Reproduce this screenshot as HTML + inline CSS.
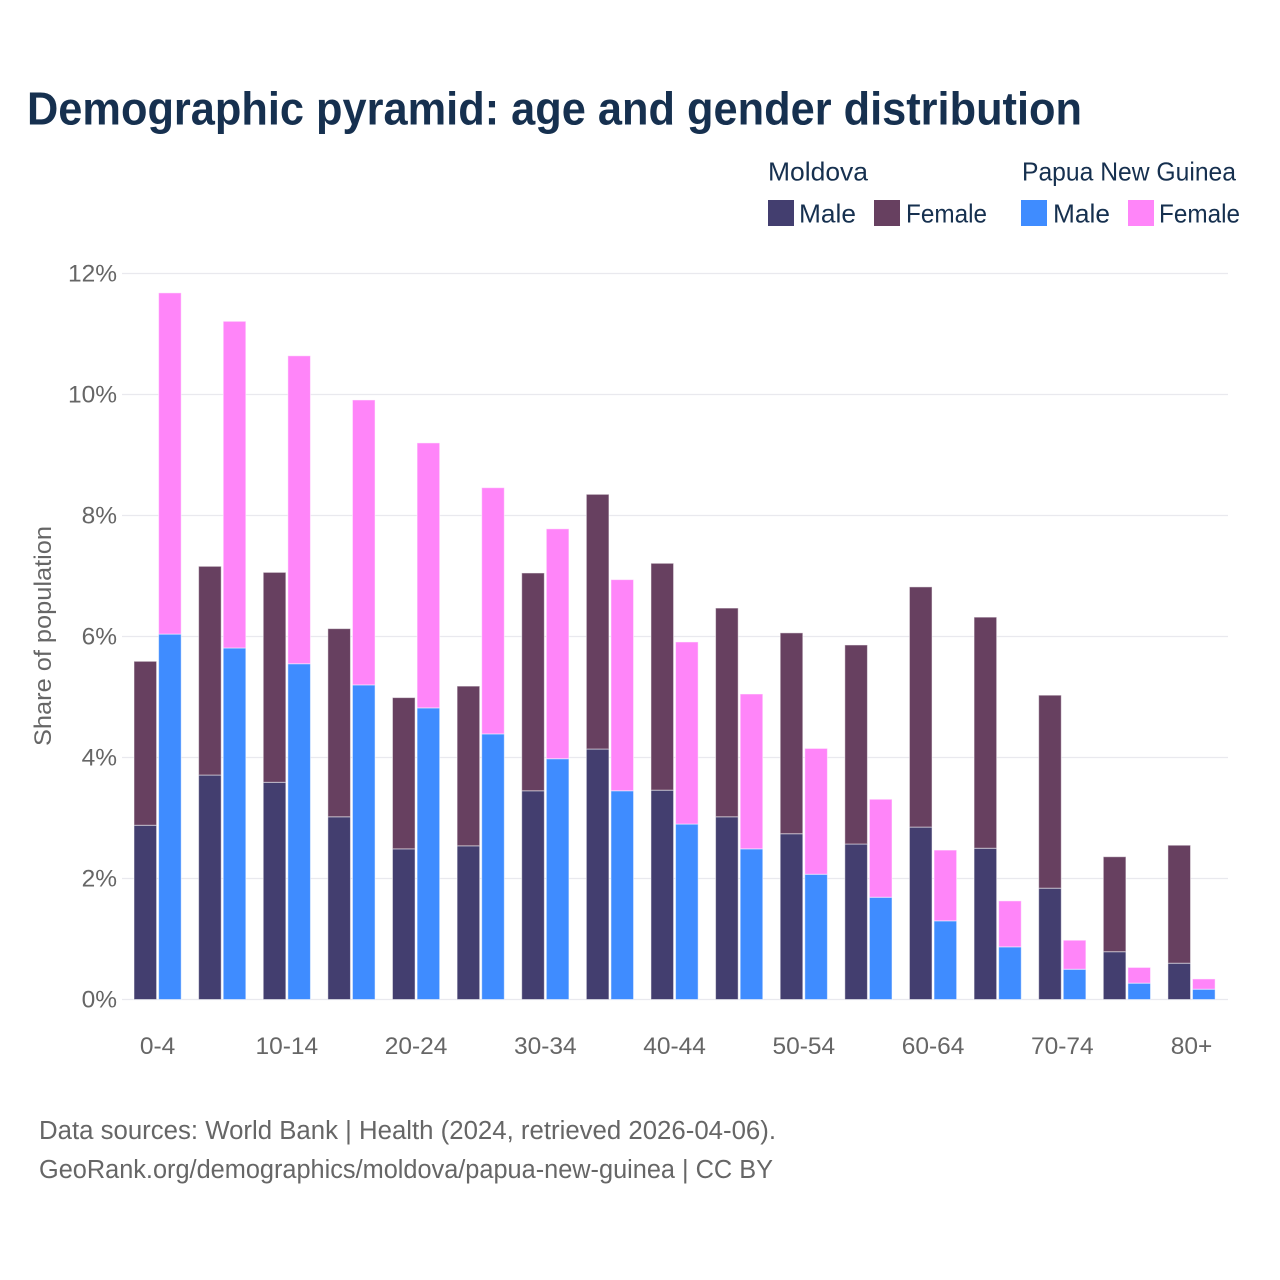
<!DOCTYPE html>
<html lang="en">
<head>
<meta charset="utf-8">
<title>Demographic pyramid</title>
<style>
html,body{margin:0;padding:0;background:#fff;width:1280px;height:1280px;overflow:hidden}
svg{display:block}
text{font-family:"Liberation Sans",sans-serif}
.leg{font-size:26px;fill:#16304f}
.tick{font-size:24.5px;fill:#666}
.foot{font-size:25.5px;fill:#666}
</style>
</head>
<body>
<svg id="chart" xmlns="http://www.w3.org/2000/svg" width="1280" height="1280" viewBox="0 0 1280 1280">
<rect width="1280" height="1280" fill="#fff"/>
<text x="27" y="124.5" font-size="46.5" font-weight="700" fill="#16304f" textLength="1055" lengthAdjust="spacingAndGlyphs">Demographic pyramid: age and gender distribution</text>

<g>
<text class="leg" x="768" y="180.5" textLength="100" lengthAdjust="spacingAndGlyphs">Moldova</text>
<text class="leg" x="1022" y="180.5" textLength="214" lengthAdjust="spacingAndGlyphs">Papua New Guinea</text>
<rect x="768" y="200" width="26" height="26" fill="#433e6f"/>
<text class="leg" x="799" y="222.5" textLength="57" lengthAdjust="spacingAndGlyphs">Male</text>
<rect x="874" y="200" width="26" height="26" fill="#674060"/>
<text class="leg" x="906" y="222.5" textLength="81" lengthAdjust="spacingAndGlyphs">Female</text>
<rect x="1021" y="200" width="26" height="26" fill="#3f8cff"/>
<text class="leg" x="1053" y="222.5" textLength="57" lengthAdjust="spacingAndGlyphs">Male</text>
<rect x="1128" y="200" width="26" height="26" fill="#ff85f9"/>
<text class="leg" x="1159" y="222.5" textLength="81" lengthAdjust="spacingAndGlyphs">Female</text>
</g>

<g id="grid"></g>
<g id="yticks"></g>
<g id="bars"></g>
<g id="xticks"></g>

<text class="tick" transform="translate(51,636) rotate(-90)" text-anchor="middle" textLength="220" lengthAdjust="spacingAndGlyphs">Share of population</text>

<text class="foot" x="39" y="1139" textLength="737" lengthAdjust="spacingAndGlyphs">Data sources: World Bank | Health (2024, retrieved 2026-04-06).</text>
<text class="foot" x="39" y="1178" textLength="734" lengthAdjust="spacingAndGlyphs">GeoRank.org/demographics/moldova/papua-new-guinea | CC BY</text>
</svg>
<script>
const categories = ['0-4','5-9','10-14','15-19','20-24','25-29','30-34','35-39','40-44','45-49','50-54','55-59','60-64','65-69','70-74','75-79','80+'];
const moldovaMale = [2.88,3.71,3.59,3.02,2.49,2.54,3.45,4.14,3.46,3.02,2.74,2.57,2.85,2.50,1.84,0.79,0.60];
const moldovaFemale = [2.71,3.45,3.47,3.11,2.50,2.64,3.60,4.21,3.75,3.45,3.32,3.29,3.97,3.82,3.19,1.57,1.95];
const pngMale = [6.04,5.81,5.55,5.20,4.82,4.39,3.98,3.45,2.90,2.49,2.07,1.69,1.30,0.87,0.50,0.27,0.17];
const pngFemale = [5.64,5.40,5.09,4.71,4.38,4.07,3.80,3.49,3.01,2.56,2.08,1.62,1.17,0.76,0.48,0.26,0.17];
const yTickValues = [0,2,4,6,8,10,12];
const yTickLabels = ['0%','2%','4%','6%','8%','10%','12%'];

const NS = 'http://www.w3.org/2000/svg';
const Y0 = 999.5, PX_PER_UNIT = 60.5;
const X0 = 134, GROUP_STEP = 64.62, BAR_W = 22.6, BAR_OFFSET = 24.6;
const yScale = v => Y0 - v * PX_PER_UNIT;
const groupX = i => X0 + i * GROUP_STEP;

function make(tag, parent, attrs) {
  const el = document.createElementNS(NS, tag);
  for (const k in attrs) el.setAttribute(k, attrs[k]);
  parent.appendChild(el);
  return el;
}

const grid = document.getElementById('grid');
const yticks = document.getElementById('yticks');
yTickValues.forEach((v, i) => {
  const line = make('line', grid, {x1:122, x2:1228, y1:yScale(v), y2:yScale(v), stroke:'#e9e9ee', 'stroke-width':1.2});
  
  
  const t = make('text', yticks, {x:117, y:yScale(v) + 8, 'text-anchor':'end', class:'tick'});
  t.textContent = yTickLabels[i];
  
  
});

const bars = document.getElementById('bars');
function stackedBar(x, lower, upper, lowerColor, upperColor, name) {
  const yLower = yScale(lower), yTop = yScale(lower + upper);
  const a = make('rect', bars, {x:x, y:yLower, width:BAR_W, height:Y0 - yLower, fill:lowerColor, stroke:'#fff', 'stroke-opacity':0.5, 'stroke-width':1});
  
  
  const b = make('rect', bars, {x:x, y:yTop, width:BAR_W, height:yLower - yTop, fill:upperColor, stroke:'#fff', 'stroke-opacity':0.5, 'stroke-width':1});
  
  
}
categories.forEach((c, i) => {
  stackedBar(groupX(i), moldovaMale[i], moldovaFemale[i], '#433e6f', '#674060', 'bar-moldova-' + c);
  stackedBar(groupX(i) + BAR_OFFSET, pngMale[i], pngFemale[i], '#3f8cff', '#ff85f9', 'bar-png-' + c);
});

const xticks = document.getElementById('xticks');
categories.forEach((c, i) => {
  if (i % 2 !== 0) return;
  const t = make('text', xticks, {x:groupX(i) + (BAR_W + BAR_OFFSET) / 2, y:1054, 'text-anchor':'middle', class:'tick'});
  t.textContent = c;
  
  
});
</script>
</body>
</html>
